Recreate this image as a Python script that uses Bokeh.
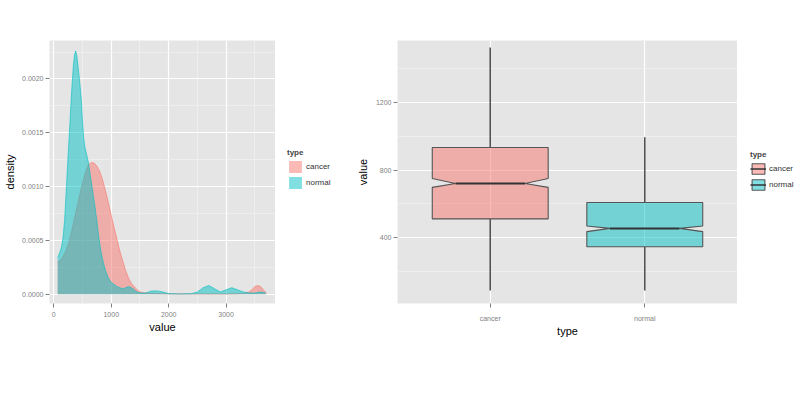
import numpy as np
from bokeh.plotting import figure
from bokeh.models import (Range1d, FixedTicker, NumeralTickFormatter, Legend,
                          LegendItem, ColumnDataSource)
from bokeh.layouts import row
from bokeh.embed import file_html
from bokeh.resources import INLINE

# ---------------- data ----------------
dens_types = ["cancer", "normal"]
cancer_value = [67, 100, 150, 200, 250, 300, 350, 400, 450, 500, 550, 600, 650, 700,
                750, 800, 850, 900, 950, 1000, 1050, 1100, 1150, 1200, 1250, 1300,
                1350, 1400, 1450, 1500, 1600, 1800, 2000, 2500, 3000, 3300, 3400,
                3450, 3500, 3550, 3600, 3650, 3700]
cancer_density = [0.00030, 0.00031, 0.00034, 0.00039, 0.00046, 0.00056, 0.00068,
                  0.00080, 0.00092, 0.00103, 0.00113, 0.00120, 0.00122, 0.00122,
                  0.00119, 0.00114, 0.00106, 0.00096, 0.00085, 0.00073, 0.00062,
                  0.00051, 0.00040, 0.00031, 0.00022, 0.00015, 0.00010, 0.00007,
                  0.00004, 0.00002, 0.00001, 0.000005, 0.000003, 0.000002, 0.000002,
                  0.000006, 0.00002, 0.00004, 0.00007, 0.00008, 0.00007, 0.00004,
                  0.00001]
normal_value = [67, 100, 130, 160, 190, 220, 250, 280, 310, 340, 360, 380, 400, 420,
                440, 460, 480, 500, 520, 540, 570, 600, 630, 660, 690, 720, 750, 780,
                810, 850, 900, 950, 1000, 1050, 1100, 1150, 1200, 1250, 1300, 1350,
                1400, 1450, 1500, 1600, 1700, 1800, 1900, 2000, 2200, 2400, 2500,
                2600, 2700, 2800, 2900, 3000, 3100, 3200, 3300, 3400, 3500, 3600,
                3690]
normal_density = [0.00034, 0.00038, 0.00043, 0.00052, 0.00070, 0.00100, 0.00130,
                  0.00158, 0.00188, 0.00212, 0.00222, 0.00226, 0.00222, 0.00213,
                  0.00203, 0.00192, 0.00180, 0.00160, 0.00145, 0.00137, 0.00130,
                  0.00123, 0.00112, 0.00102, 0.00091, 0.00080, 0.00068, 0.00054,
                  0.00043, 0.00032, 0.00022, 0.00015, 0.00011, 0.00009, 0.00007,
                  0.00006, 0.00005, 0.00006, 0.00007, 0.00006, 0.00004, 0.00002,
                  0.00001, 0.00001, 0.00003, 0.00003, 0.00002, 0.000005, 0.000002,
                  0.000005, 0.00002, 0.00006, 0.00008, 0.00005, 0.00002, 0.00004,
                  0.00006, 0.00004, 0.00002, 0.00001, 0.00001, 0.00002, 0.00001]

box_types = ["cancer", "normal"]
whisker_low = [90, 90]
q1 = [512, 348]
median = [721, 456]
q3 = [933, 609]
whisker_high = [1522, 994]
notch_low = [698, 437]
notch_high = [750, 470]

density_ticks = [0, 0.0005, 0.001, 0.0015, 0.002]
density_minor = [0.00025, 0.00075, 0.00125, 0.00175, 0.00225]
value_ticks_left = [0, 1000, 2000, 3000]
value_minor_left = [500, 1500, 2500, 3500]
value_ticks_right = [0, 400, 800, 1200]
value_minor_right = [200, 600, 1000, 1400]

palette = {"cancer": "#F8766D", "normal": "#00BFC4"}
FONT = "Liberation Sans"
H = 353
NAN = [float("nan")]


def style(p):
    p.background_fill_color = "#E5E5E5"
    p.border_fill_color = "white"
    p.outline_line_color = None
    for ax in (p.xaxis[0], p.yaxis[0]):
        ax.axis_line_color = None
        ax.major_tick_line_color = "#7F7F7F"
        ax.major_tick_out = 4
        ax.major_tick_in = 0
        ax.minor_tick_line_color = None
        ax.major_label_text_color = "#7F7F7F"
        ax.major_label_text_font_size = "7px"
        ax.major_label_text_font = FONT
        ax.axis_label_text_font = FONT
        ax.axis_label_text_font_size = "11px"
        ax.axis_label_text_font_style = "normal"
        ax.axis_label_text_color = "black"
        ax.major_label_standoff = 2
        ax.axis_label_standoff = 2
    p.xaxis[0].major_label_standoff = 4
    p.xaxis[0].axis_label_standoff = 1
    for g in (p.xgrid[0], p.ygrid[0]):
        g.grid_line_color = "white"
        g.grid_line_width = 1.2
        g.minor_grid_line_color = "#F4F4F4"
        g.minor_grid_line_width = 0.6


def legend_fig(width):
    f = figure(width=width, height=H, min_border=0, x_axis_location=None,
               y_axis_location=None, toolbar_location=None, output_backend="svg",
               x_range=Range1d(0, 1), y_range=Range1d(0, 1))
    f.background_fill_color = "white"
    f.border_fill_color = "white"
    f.outline_line_color = None
    f.grid.visible = False
    return f


def make_legend(items, loc):
    leg = Legend(items=items, title="type", location=loc,
                 orientation="vertical")
    leg.title_text_font = FONT
    leg.title_text_font_size = "8px"
    leg.title_text_font_style = "bold"
    leg.title_standoff = 2
    leg.label_text_font = FONT
    leg.label_text_font_size = "8px"
    leg.label_text_color = "#333333"
    leg.glyph_width = 16
    leg.glyph_height = 15
    leg.label_height = 15
    leg.spacing = 1
    leg.padding = 2
    leg.margin = 0
    leg.label_standoff = 3
    leg.background_fill_alpha = 0
    leg.border_line_color = None
    return leg


# ---------------- left: density ----------------
p1 = figure(width=275, height=H,
            x_range=Range1d(-75, 3860), y_range=Range1d(-0.000087, 0.002357),
            output_backend="svg", toolbar_location=None,
            min_border_left=49, min_border_top=40, min_border_right=0,
            min_border_bottom=50, x_axis_label="value", y_axis_label="density")
p1.xaxis.ticker = FixedTicker(ticks=value_ticks_left, minor_ticks=value_minor_left)
p1.yaxis.ticker = FixedTicker(ticks=density_ticks, minor_ticks=density_minor)
p1.xaxis.formatter = NumeralTickFormatter(format="0")
p1.yaxis.formatter = NumeralTickFormatter(format="0.0000")
style(p1)
p1.yaxis.axis_label_standoff = 3

dens_data = {"cancer": (cancer_value, cancer_density),
             "normal": (normal_value, normal_density)}
l1 = legend_fig(73)
items1 = []
for t in dens_types:
    xv, yv = dens_data[t]
    p1.varea(x=xv, y1=np.zeros(len(xv)), y2=yv,
             fill_color=palette[t], fill_alpha=0.5)
    p1.line(xv, yv, line_color=palette[t], line_alpha=0.6, line_width=1)
    key = l1.varea(x=NAN, y1=NAN, y2=NAN, fill_color=palette[t], fill_alpha=0.5)
    items1.append(LegendItem(label=t, renderers=[key]))
l1.add_layout(make_legend(items1, (12, 113)))

# ---------------- right: notched boxplot ----------------
p2 = figure(width=389, height=H,
            x_range=Range1d(0.4, 2.6), y_range=Range1d(13, 1564),
            output_backend="svg", toolbar_location=None,
            min_border_left=49, min_border_top=40, min_border_right=0,
            min_border_bottom=46, x_axis_label="type", y_axis_label="value")
pos = list(range(1, len(box_types) + 1))
p2.xaxis.ticker = FixedTicker(ticks=pos)
p2.xaxis.major_label_overrides = {k: t for k, t in zip(pos, box_types)}
p2.yaxis.ticker = FixedTicker(ticks=value_ticks_right, minor_ticks=value_minor_right)
p2.yaxis.formatter = NumeralTickFormatter(format="0")
style(p2)
p2.yaxis.axis_label_standoff = 4
p2.xaxis.major_label_standoff = 7
p2.xaxis.axis_label_standoff = 0

hw = 0.375          # half box width
nw = hw * 0.6       # half width at the notch
xs, ys = [], []
for c, a, nl, m, nh, b in zip(pos, q1, notch_low, median, notch_high, q3):
    xs.append([c - hw, c + hw, c + hw, c + nw, c + hw, c + hw,
               c - hw, c - hw, c - nw, c - hw])
    ys.append([b, b, nh, m, nl, a, a, nl, m, nh])

src = ColumnDataSource(dict(
    xs=xs, ys=ys, pos=pos, lo=whisker_low, hi=whisker_high, q1=q1, q3=q3,
    med=median, x0=[c - nw for c in pos], x1=[c + nw for c in pos],
    color=[palette[t] for t in box_types]))

p2.segment(x0="pos", x1="pos", y0="lo", y1="q1", source=src,
           line_color="#4D4D4D", line_width=1.5)
p2.segment(x0="pos", x1="pos", y0="q3", y1="hi", source=src,
           line_color="#4D4D4D", line_width=1.5)
p2.patches(xs="xs", ys="ys", source=src, fill_color="color", fill_alpha=0.5,
           line_color="#555555", line_width=1.1)
p2.segment(x0="x0", x1="x1", y0="med", y1="med", source=src,
           line_color="#333333", line_width=2)

l2 = legend_fig(60)
items2 = []
for t in box_types:
    kb = l2.patch(x=NAN, y=NAN, fill_color=palette[t], fill_alpha=0.5,
                  line_color="#555555", line_width=1.1)
    km = l2.segment(x0=NAN, x1=NAN, y0=NAN, y1=NAN, line_color="#333333",
                    line_width=1.5)
    items2.append(LegendItem(label=t, renderers=[kb, km]))
lg2 = make_legend(items2, (13, 111))
lg2.glyph_height = 13
l2.add_layout(lg2)

layout = row(p1, l1, p2, l2, spacing=0)
open("out.html", "w").write(file_html(layout, INLINE))
